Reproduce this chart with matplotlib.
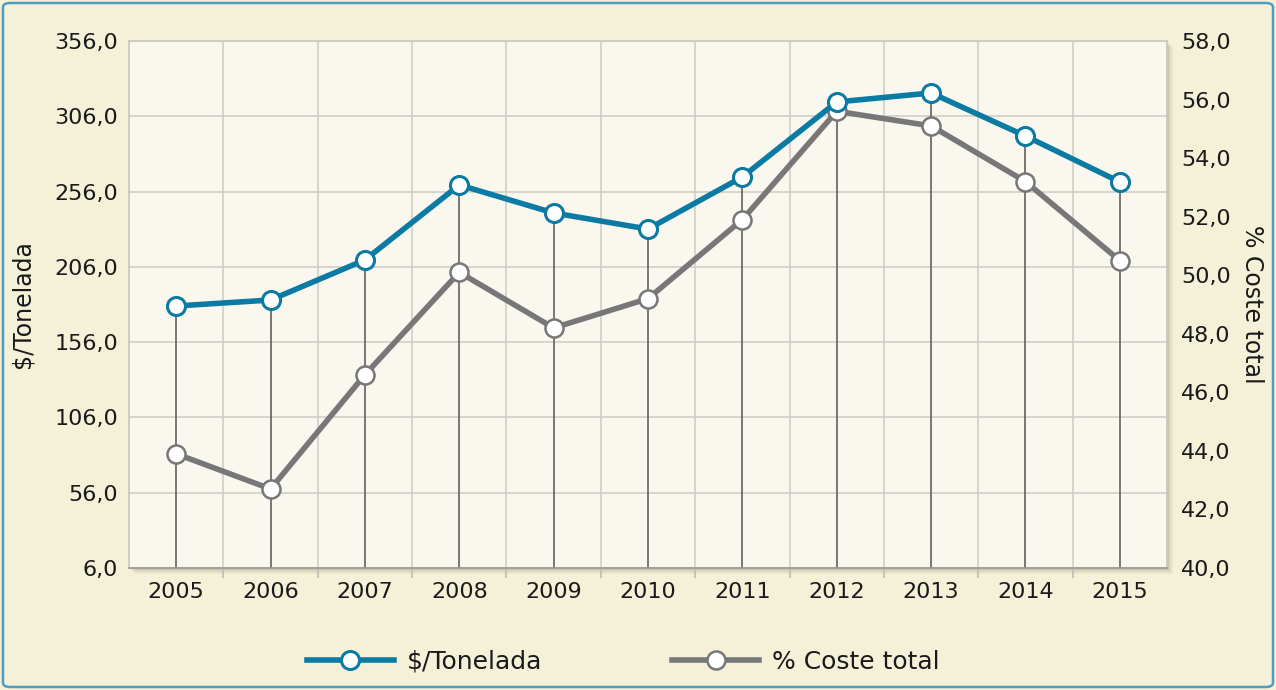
import matplotlib
matplotlib.use("Agg")
import matplotlib.pyplot as plt
from matplotlib.patches import FancyBboxPatch, Rectangle
from matplotlib.ticker import FuncFormatter, FixedLocator

# data
years = ["2005", "2006", "2007", "2008", "2009", "2010",
         "2011", "2012", "2013", "2014", "2015"]
usd_per_ton = [180.0, 184.0, 210.6, 260.4, 241.8, 231.1,
               265.7, 315.5, 321.5, 292.9, 262.4]
pct_cost = [43.9, 42.7, 46.6, 50.1, 48.2, 49.2,
            51.9, 55.6, 55.1, 53.2, 50.5]

left_ticks = [6, 56, 106, 156, 206, 256, 306, 356]
right_ticks = [40, 42, 44, 46, 48, 50, 52, 54, 56, 58]

BLUE = "#0b7ba3"
GREY = "#777777"
FIG_BG = "#f5f0d8"
AX_BG = "#faf7ef"
TXT = "#1a1a1a"

plt.rcParams["font.family"] = ["DejaVu Sans"]


def comma_fmt(v, pos):
    return f"{v:.1f}".replace(".", ",")


W, H = 1276, 690
fig = plt.figure(figsize=(W / 100, H / 100), dpi=100)
fig.patch.set_facecolor(FIG_BG)

# rounded blue frame
fig.patches.append(FancyBboxPatch((3 / W, 3 / H), 1 - 6 / W, 1 - 6 / H,
                                  boxstyle="round,pad=0,rounding_size=0.006",
                                  transform=fig.transFigure, fill=False,
                                  edgecolor="#4a9fc2", linewidth=1.8))

x0, x1, y0, y1 = 129, 1167, 41, 568
ax_rect = [x0 / W, 1 - y1 / H, (x1 - x0) / W, (y1 - y0) / H]

# soft drop shadow of the plot area (kept below the axes)
for off, a in [(6, 0.10), (4, 0.15), (2, 0.2)]:
    fig.patches.append(Rectangle((ax_rect[0] + off / W, ax_rect[1] - off / H),
                                 ax_rect[2], ax_rect[3],
                                 transform=fig.transFigure,
                                 facecolor="#8a8570", edgecolor="none",
                                 alpha=a, zorder=-1))

ax = fig.add_axes(ax_rect)
ax.set_facecolor(AX_BG)
xs = list(range(len(years)))

ax.set_xlim(-0.5, len(years) - 0.5)
ax.set_ylim(left_ticks[0], left_ticks[-1])
ax.set_yticks(left_ticks)
ax.yaxis.set_major_formatter(FuncFormatter(comma_fmt))
ax.set_xticks(xs)
ax.set_xticklabels(years)
ax.xaxis.set_minor_locator(FixedLocator([i + 0.5 for i in range(len(years) - 1)]))

ax.grid(True, axis="y", which="major", color="#cfcfc8", linewidth=1.2)
ax.grid(True, axis="x", which="minor", color="#cfcfc8", linewidth=1.2)
ax.set_axisbelow(True)

ax.tick_params(axis="y", length=0, pad=8, labelsize=16, labelcolor=TXT)
ax.tick_params(axis="x", which="major", length=0, pad=10, labelsize=16, labelcolor=TXT)
ax.tick_params(axis="x", which="minor", length=7, width=1.2, color="#bdbdb5")
for s in ax.spines.values():
    s.set_color("#c8c8c0")
    s.set_linewidth(1.2)
ax.spines["bottom"].set_color("#9a9a90")
ax.set_ylabel("$/Tonelada", fontsize=17, color=TXT, labelpad=14)

# drop lines from the upper series down to the axis
ax.vlines(xs, left_ticks[0], usd_per_ton, color="#555555", linewidth=1.1, zorder=2)

ax2 = ax.twinx()
ax2.set_ylim(right_ticks[0], right_ticks[-1])
ax2.set_yticks(right_ticks)
ax2.yaxis.set_major_formatter(FuncFormatter(comma_fmt))
ax2.tick_params(axis="y", length=0, pad=10, labelsize=16, labelcolor=TXT)
for s in ax2.spines.values():
    s.set_visible(False)
ax2.set_ylabel("% Coste total", fontsize=17, color=TXT, rotation=270, labelpad=24)

style = dict(linewidth=4, marker="o", markersize=13, markerfacecolor="white",
             clip_on=False)
ax2.plot(xs, pct_cost, color=GREY, markeredgecolor=GREY, markeredgewidth=1.8,
         label="% Coste total", zorder=3, **style)
# blue series uses the left scale but sits on top of the twin axis
ax2.plot(xs, usd_per_ton, transform=ax.transData, color=BLUE, markeredgecolor=BLUE,
         markeredgewidth=2.2, label="$/Tonelada", zorder=4, **style)

h, l = ax2.get_legend_handles_labels()
fig.legend(h[::-1], l[::-1], loc="center", bbox_to_anchor=(623 / W, 1 - 662 / H),
           ncol=2, frameon=False, fontsize=18, handlelength=3.5,
           columnspacing=5.2, handletextpad=0.5, labelcolor=TXT)

fig.savefig("out.png", dpi=100, facecolor=FIG_BG)
